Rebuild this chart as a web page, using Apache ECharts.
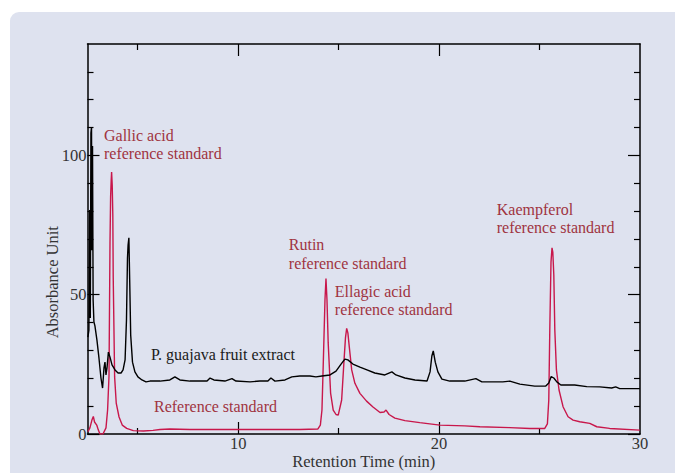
<!DOCTYPE html>
<html>
<head>
<meta charset="utf-8">
<script src="https://cdn.jsdelivr.net/npm/echarts@6/dist/echarts.min.js"></script>
<style>
html,body{margin:0;padding:0;background:#ffffff;width:675px;height:473px;overflow:hidden;}
#bg{position:absolute;left:10px;top:12px;width:700px;height:500px;background:#dee2ef;border-radius:9px;}
#chart{position:absolute;left:0;top:0;width:675px;height:473px;}
</style>
</head>
<body>
<div id="bg"></div>
<div id="chart"></div>
<script>
// ---- Data ----
const extractTime = [2.52,2.57,2.61,2.64,2.67,2.70,2.72,2.75,2.78,2.82,2.87,2.97,3.07,3.17,3.25,3.32,3.37,3.42,3.47,3.54,3.62,3.72,3.87,4.02,4.17,4.27,4.37,4.44,4.49,4.52,4.56,4.60,4.65,4.74,4.86,5.01,5.21,5.41,5.61,6.11,6.60,6.85,7.10,7.60,8.10,8.45,8.60,8.79,9.34,9.69,9.89,10.59,11.08,11.48,11.63,11.83,12.33,12.67,13.07,13.57,13.87,14.17,14.57,14.87,15.12,15.31,15.46,15.71,16.06,16.41,16.80,17.30,17.65,17.85,18.30,18.80,19.40,19.55,19.64,19.71,19.81,19.94,20.14,20.53,21.28,21.83,22.13,23.17,23.52,24.02,24.76,25.31,25.46,25.58,25.71,25.86,26.06,26.75,27.35,28.00,28.59,28.79,28.99,29.99];
const extractAbs  = [34.8,37.3,80.4,41.6,108.0,110.2,66.0,103.4,48.1,40.2,38.8,33.7,27.3,20.1,16.5,23.7,25.8,21.2,23.7,29.4,27.6,24.8,23.0,21.9,21.9,23.0,26.6,40.9,63.2,67.8,70.4,55.3,35.5,25.8,22.3,20.5,19.4,18.7,19.0,19.0,19.4,20.5,19.4,19.0,19.0,19.0,20.1,19.4,19.0,19.9,19.0,18.7,19.0,19.0,20.1,19.0,19.4,20.5,20.8,20.8,20.5,20.8,21.2,22.6,25.1,26.9,26.6,25.1,24.0,23.0,21.9,21.2,22.3,21.2,20.1,19.4,19.0,22.3,28.0,29.8,25.8,22.3,19.7,19.0,19.0,19.9,18.7,18.7,19.0,17.9,17.2,17.2,18.3,20.6,20.1,18.7,17.6,17.6,17.0,16.9,16.5,16.9,16.3,16.3];

const refTime = [2.52,2.62,2.72,2.79,2.85,2.96,3.04,3.12,3.27,3.42,3.50,3.57,3.62,3.65,3.68,3.70,3.73,3.76,3.78,3.85,3.93,4.07,4.23,4.45,4.78,5.28,5.76,6.11,6.60,7.60,9.59,11.58,13.07,13.97,14.09,14.17,14.24,14.32,14.37,14.42,14.48,14.60,14.73,14.87,14.98,15.15,15.27,15.34,15.40,15.46,15.53,15.65,15.81,16.06,16.39,16.71,17.06,17.26,17.36,17.51,17.80,18.30,19.04,20.04,21.28,22.03,23.52,24.52,25.26,25.39,25.46,25.51,25.57,25.62,25.66,25.71,25.76,25.84,25.97,26.17,26.42,26.67,27.00,27.50,27.85,28.49,29.99];
const refAbs  = [0.8,2.2,5.0,6.3,4.3,3.2,1.4,0.0,0.0,2.2,8.6,20.8,68.6,85.1,91.2,94.0,89.4,78.6,56.4,20.5,11.1,6.1,3.2,2.0,1.2,1.1,1.3,1.6,1.8,1.6,1.6,1.6,1.6,1.8,3.2,8.6,26.6,48.1,55.8,48.1,32.7,14.7,8.6,7.0,6.8,12.2,26.6,34.5,37.9,36.3,31.3,23.0,18.2,14.6,11.8,9.7,7.7,7.9,8.6,7.0,5.7,4.8,4.1,3.2,2.9,2.6,2.3,2.0,2.0,3.6,12.2,37.3,61.7,66.8,65.3,57.1,37.3,23.0,15.8,9.8,6.2,5.0,4.4,3.8,2.6,2.0,1.4];

const xLabelValues = [10, 20, 30];
const xMajorTicks = [10, 20];
const xMinorTicks = [5, 15, 25];
const yLabelValues = [0, 50, 100];
const yMajorTicks = [0, 50, 100];
const yMinorTicks = [10, 20, 30, 40, 60, 70, 80, 90, 110, 120, 130];

const seriesNames = ['Reference standard', 'P. guajava fruit extract'];
const annotationTexts = ['Gallic acid\nreference standard', 'Rutin\nreference standard', 'Ellagic acid\nreference standard', 'Kaempferol\nreference standard', 'P. guajava fruit extract', 'Reference standard'];
const annotationAnchors = [[3.32, 107.2], [12.52, 68.0], [14.81, 51.3], [22.87, 80.7], [5.66, 28.4], [5.81, 10.05]];
const xAxisTitle = 'Retention Time (min)';
const yAxisTitle = 'Absorbance Unit';

// ---- Chart ----
const FONT = '"Liberation Serif", "Times New Roman", serif';
const RED = '#c8174b';
const TXTRED = '#a0343f';
const X_MIN = 2.5, X_MAX = 30, Y_MIN = 0, Y_MAX = 140;
const LINE_H = 18.5;
const axisLine = {show: true, onZero: false, lineStyle: {color: '#000', width: 1.5}};
const tickStyle = {color: '#000', width: 1.2};

function xAx(pos, ticks, len, showLine, labels) {
  const a = {
    type: 'value', gridIndex: 0, position: pos, min: X_MIN, max: X_MAX,
    axisLine: showLine ? axisLine : {show: false, onZero: false},
    axisTick: {show: true, inside: true, length: len, customValues: ticks, lineStyle: tickStyle},
    axisLabel: {show: false},
    splitLine: {show: false}
  };
  if (labels) {
    a.axisLabel = {show: true, customValues: labels, showMinLabel: true, showMaxLabel: true,
      color: '#333', fontFamily: FONT, fontSize: 16.5, margin: 1};
    a.name = xAxisTitle; a.nameLocation = 'middle'; a.nameGap = 19; a.nameMoveOverlap = false;
    a.nameTextStyle = {color: '#333', fontFamily: FONT, fontSize: 16.5};
  }
  return a;
}
function yAx(pos, ticks, len, showLine, labels) {
  const a = {
    type: 'value', gridIndex: 0, position: pos, min: Y_MIN, max: Y_MAX,
    axisLine: showLine ? axisLine : {show: false, onZero: false},
    axisTick: {show: true, inside: true, length: len, customValues: ticks, lineStyle: tickStyle},
    axisLabel: {show: false},
    splitLine: {show: false}
  };
  if (labels) {
    a.axisLabel = {show: true, customValues: labels, showMinLabel: true, showMaxLabel: true,
      color: '#333', fontFamily: FONT, fontSize: 16.5, margin: 1};
  }
  return a;
}

const chart = echarts.init(document.getElementById('chart'), null, {renderer: 'svg'});
const zip = (a, b) => a.map((v, i) => [v, b[i]]);

chart.setOption({
  animation: false,
  backgroundColor: 'transparent',
  textStyle: {fontFamily: FONT},
  grid: {left: 87.5, right: 35, top: 44, bottom: 39, containLabel: false, outerBoundsMode: 'none'},
  xAxis: [
    xAx('bottom', xMajorTicks, 12, true, xLabelValues),
    xAx('bottom', xMinorTicks, 6, false, null),
    xAx('top', xMajorTicks, 12, true, null),
    xAx('top', xMinorTicks, 6, false, null)
  ],
  yAxis: [
    yAx('left', yMajorTicks, 12, true, yLabelValues),
    yAx('left', yMinorTicks, 6, false, null),
    yAx('right', yMajorTicks, 12, true, null),
    yAx('right', yMinorTicks, 6, false, null)
  ],
  series: [
    {name: seriesNames[0], type: 'line', xAxisIndex: 0, yAxisIndex: 0, data: zip(refTime, refAbs),
      showSymbol: false, symbol: 'none', lineStyle: {color: RED, width: 1.4}, z: 2},
    {name: seriesNames[1], type: 'line', xAxisIndex: 0, yAxisIndex: 0, data: zip(extractTime, extractAbs),
      showSymbol: false, symbol: 'none', lineStyle: {color: '#000', width: 1.4}, z: 3}
  ]
});

const graphics = annotationTexts.map((txt, i) => {
  const p = chart.convertToPixel({xAxisIndex: 0, yAxisIndex: 0}, annotationAnchors[i]);
  return {
    type: 'text', x: p[0], y: p[1] - LINE_H / 2, z: 10,
    style: {text: txt, fill: i === 4 ? '#1a1a1a' : TXTRED, font: '16px ' + FONT,
      textAlign: 'left', textVerticalAlign: 'top', lineHeight: LINE_H}
  };
});
const yMid = chart.convertToPixel({yAxisIndex: 0}, 54.5);
graphics.push({
  type: 'text', x: 52, y: yMid, rotation: Math.PI / 2, z: 10,
  style: {text: yAxisTitle, fill: '#333', font: '16.5px ' + FONT, textAlign: 'center', textVerticalAlign: 'middle'}
});
chart.setOption({graphic: graphics});
</script>
</body>
</html>
